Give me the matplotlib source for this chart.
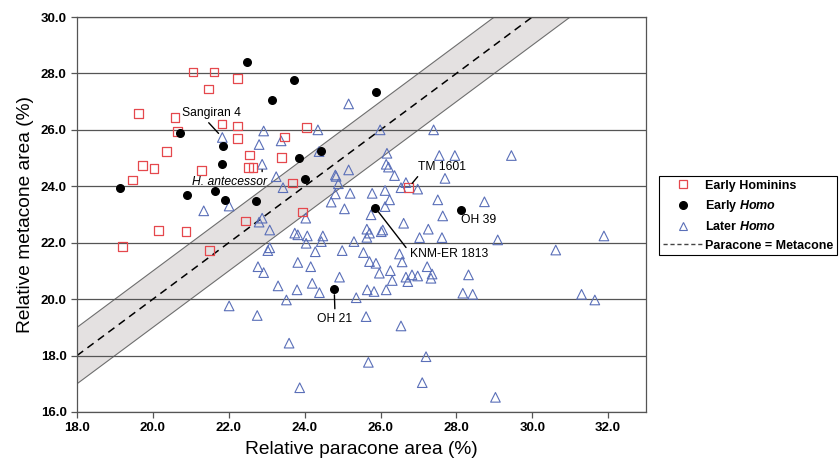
import matplotlib
matplotlib.use("Agg")
import matplotlib.pyplot as plt
import numpy as np
from matplotlib.lines import Line2D
from matplotlib.ticker import FormatStrFormatter

plt.rcParams.update({
    "font.family": ["Liberation Sans", "DejaVu Sans"],
    "mathtext.fontset": "custom",
    "mathtext.it": "Liberation Sans:italic:bold",
    "mathtext.rm": "Liberation Sans:bold",
    "axes.axisbelow": True,
})

# relative paracone (x) / metacone (y) areas, %
early_hominins_x = [21.06, 21.61, 22.24, 21.46, 19.63, 20.58, 21.82, 22.22, 20.65, 22.22,
                    20.36, 22.55, 23.39, 23.46, 19.72, 20.03, 22.53, 22.64, 21.28, 19.46,
                    22.44, 19.19, 20.14, 20.87, 21.49, 24.04, 23.67, 23.94, 26.74]
early_hominins_y = [28.05, 28.05, 27.81, 27.45, 26.57, 26.44, 26.21, 26.14, 25.93, 25.68,
                    25.24, 25.11, 25.02, 25.75, 24.73, 24.63, 24.66, 24.66, 24.55, 24.22,
                    22.77, 21.87, 22.43, 22.39, 21.73, 26.08, 24.12, 23.09, 23.95]

early_homo_x = [22.47, 23.15, 20.72, 21.86, 21.83, 19.14, 20.90, 21.65, 21.89, 22.72,
                23.71, 25.87, 23.85, 24.42, 24.01, 25.86, 28.13, 24.78]
early_homo_y = [28.40, 27.07, 25.89, 25.43, 24.79, 23.95, 23.68, 23.84, 23.52, 23.47,
                27.76, 27.34, 25.00, 25.26, 24.27, 23.24, 23.15, 20.35]

later_homo_x = [21.83, 22.92, 22.80, 23.38, 22.88, 23.25, 23.43, 21.34, 22.01, 22.88,
                22.80, 23.08, 23.03, 23.08, 22.77, 22.92, 23.30, 23.52, 22.01, 22.75,
                23.59, 25.16, 24.35, 25.99, 27.40, 24.38, 26.17, 27.55, 27.96, 29.45,
                26.15, 26.21, 25.16, 26.37, 24.81, 24.83, 24.89, 27.70, 24.81, 25.20,
                25.78, 26.12, 26.54, 26.67, 26.98, 24.70, 25.05, 26.24, 26.12, 25.75,
                27.51, 28.74, 27.64, 24.03, 26.61, 27.26, 25.64, 26.06, 26.02, 25.71,
                23.74, 23.82, 24.07, 24.48, 24.44, 24.04, 25.30, 25.64, 27.03, 27.62,
                29.09, 24.28, 24.99, 25.55, 26.50, 26.57, 23.82, 24.16, 25.71, 25.88,
                25.97, 26.26, 26.31, 27.23, 27.36, 27.33, 26.67, 26.72, 26.83, 26.98,
                28.32, 24.92, 24.20, 23.80, 24.39, 25.65, 25.83, 26.15, 25.36, 28.17,
                28.43, 25.62, 26.54, 25.68, 27.20, 23.87, 27.10, 29.03, 31.89, 30.62,
                31.30, 31.65]
later_homo_y = [25.73, 25.96, 25.48, 25.61, 24.78, 24.34, 23.95, 23.13, 23.30, 22.87,
                22.73, 22.45, 21.72, 21.82, 21.15, 20.94, 20.47, 19.97, 19.76, 19.42,
                18.44, 26.92, 26.00, 26.00, 26.00, 25.23, 25.17, 25.09, 25.09, 25.09,
                24.78, 24.68, 24.58, 24.38, 24.40, 24.35, 24.09, 24.28, 23.73, 23.75,
                23.75, 23.85, 23.95, 24.13, 23.90, 23.44, 23.20, 23.52, 23.28, 22.99,
                23.52, 23.45, 22.95, 22.87, 22.69, 22.48, 22.48, 22.45, 22.39, 22.34,
                22.34, 22.28, 22.24, 22.24, 22.04, 21.98, 22.04, 22.19, 22.18, 22.18,
                22.10, 21.68, 21.72, 21.65, 21.60, 21.32, 21.30, 21.15, 21.33, 21.27,
                20.92, 21.01, 20.66, 21.15, 20.89, 20.74, 20.78, 20.62, 20.86, 20.82,
                20.86, 20.78, 20.56, 20.33, 20.23, 20.33, 20.27, 20.33, 20.05, 20.21,
                20.17, 19.38, 19.05, 17.76, 17.96, 16.86, 17.04, 16.52, 22.24, 21.74,
                20.17, 19.97]

# labelled specimens
specimen_names = ["Sangiran 4", "H. antecessor", "TM 1601", "KNM-ER 1813", "OH 39", "OH 21"]
specimen_pts = [(21.83, 25.73), (22.88, 24.78), (26.74, 23.95), (25.86, 23.24), (28.13, 23.15), (24.78, 20.35)]
specimen_txt = [(21.55, 26.60), (22.03, 24.16), (27.62, 24.69), (27.80, 21.60), (28.58, 22.81), (24.80, 19.30)]
# where the leader line leaves the text box (None = no line)
leader_relpos = [(0.39, 0.0), (0.93, 1.0), (0.06, 0.0), (0.0, 0.65), None, (0.5, 1.0)]

band_x = [18.0, 33.0]
band_halfwidth = 1.0

RED = "#E5484D"
BLUE = "#5A6FB8"

fig = plt.figure(figsize=(8.4, 4.66), dpi=100)
ax = fig.add_axes([0.0917, 0.1159, 0.6774, 0.8476])

bx = np.array(band_x)
ax.fill_between(bx, bx - band_halfwidth, bx + band_halfwidth, color="#E4E1E1",
                edgecolor="none", zorder=0.3)
ax.plot(bx, bx - band_halfwidth, color="#6E6E6E", lw=0.8, zorder=0.4)
ax.plot(bx, bx + band_halfwidth, color="#6E6E6E", lw=0.8, zorder=0.4)
ax.plot(bx, bx, color="black", lw=1.1, ls=(0, (5, 3.5)), zorder=1)

ax.scatter(later_homo_x, later_homo_y, marker="^", s=48, facecolors="none",
           edgecolors=BLUE, linewidths=0.8, zorder=3)
ax.scatter(early_hominins_x, early_hominins_y, marker="s", s=40, facecolors="none",
           edgecolors=RED, linewidths=0.9, zorder=3)
ax.scatter(early_homo_x, early_homo_y, marker="o", s=30, color="black", zorder=4)

for name, (px, py), (tx, ty), rp in zip(specimen_names, specimen_pts, specimen_txt, leader_relpos):
    style = "italic" if name.startswith("H.") else "normal"
    if rp is None:
        ax.text(tx, ty, name, fontsize=8.7, ha="center", va="center", zorder=5)
        continue
    ax.annotate(name, xy=(px, py), xytext=(tx, ty), fontsize=8.7, fontstyle=style,
                ha="center", va="center", zorder=5,
                arrowprops=dict(arrowstyle="-", color="black", lw=1.0, relpos=rp,
                                shrinkA=1, shrinkB=4))

ax.set_xlim(18, 33)
ax.set_ylim(16, 30)
ax.set_xticks(np.arange(18, 33, 2))
ax.set_yticks(np.arange(16, 31, 2))
ax.xaxis.set_major_formatter(FormatStrFormatter("%.1f"))
ax.yaxis.set_major_formatter(FormatStrFormatter("%.1f"))
ax.tick_params(direction="out", length=4, width=0.9, color="#555555", labelsize=9.5)
for lab in ax.get_xticklabels() + ax.get_yticklabels():
    lab.set_fontweight("bold")
ax.yaxis.grid(True, color="#555555", lw=0.9)
for sp in ax.spines.values():
    sp.set_color("#555555")
    sp.set_linewidth(0.9)

ax.set_xlabel("Relative paracone area (%)", fontsize=13.8, labelpad=5)
ax.set_ylabel("Relative metacone area (%)", fontsize=13.8, labelpad=5)

handles = [
    Line2D([], [], ls="none", marker="s", ms=5.5, mfc="none", mec=RED, mew=0.9),
    Line2D([], [], ls="none", marker="o", ms=5.5, color="black"),
    Line2D([], [], ls="none", marker="^", ms=5.5, mfc="none", mec=BLUE, mew=0.8),
    Line2D([], [], color="#444444", lw=1.0, ls=(0, (3, 2))),
]
labels = ["Early Hominins", r"Early $\mathit{Homo}$", r"Later $\mathit{Homo}$",
          "Paracone = Metacone"]
leg = fig.legend(handles, labels, loc="upper left", bbox_to_anchor=(0.7845, 0.6223),
                 borderaxespad=0, frameon=True, fancybox=False, edgecolor="black",
                 framealpha=1, handlelength=3.2, handletextpad=0.2, borderpad=0.3,
                 labelspacing=0.5, prop={"weight": "bold", "size": 9.0})
leg.get_frame().set_linewidth(0.8)

fig.savefig("out.png", dpi=100)
